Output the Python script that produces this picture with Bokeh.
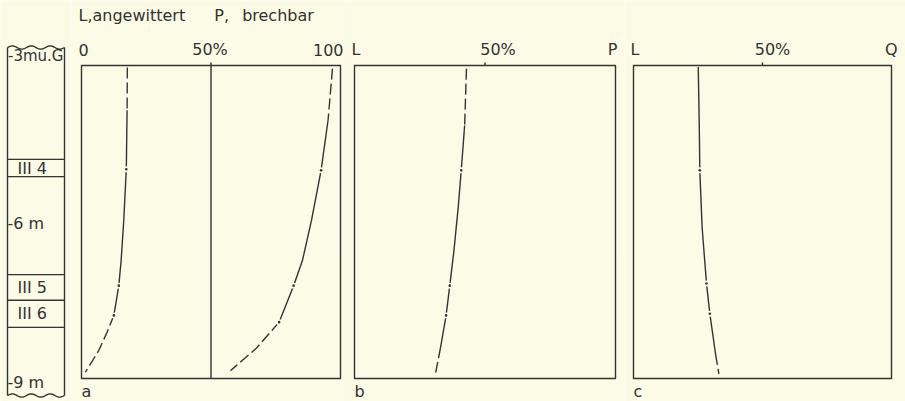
import numpy as np
from bokeh.plotting import figure
from bokeh.layouts import row
from bokeh.models import Range1d
from bokeh.core.properties import value
from bokeh.embed import file_html
from bokeh.resources import INLINE

# ---------------- data ----------------
# stratigraphic column (depth in m below ground)
layer_names = ["III 4", "III 5", "III 6"]
layer_top = [4.80, 7.01, 7.50]
layer_bottom = [5.13, 7.50, 8.02]
depth_ticks = [3, 6, 9]
depth_labels = ["-3mu.G", "-6 m", "-9 m"]

# panel a : L (angewittert) and P (brechbar), cumulative %
a_L_depth = [3.04, 3.86, 4.99, 5.98, 6.74, 7.22, 7.79, 8.11, 8.46, 8.88]
a_L_pct = [17.7, 17.6, 17.3, 16.3, 15.3, 14.4, 12.5, 9.9, 6.7, 1.5]
a_P_depth = [3.06, 4.05, 5.01, 5.97, 6.74, 7.22, 7.92, 8.42, 8.85]
a_P_pct = [96.9, 95.2, 92.5, 88.8, 85.3, 81.9, 76.3, 67.5, 57.5]
# panel b : L / P ratio %
b_depth = [3.06, 4.15, 5.01, 5.74, 6.55, 7.22, 7.79, 8.40, 8.91]
b_pct = [42.9, 42.2, 40.9, 39.7, 38.1, 36.5, 35.1, 33.0, 31.0]
# panel c : L / Q ratio %
c_depth = [3.03, 4.18, 5.01, 6.10, 6.55, 7.18, 7.76, 8.53, 8.91]
c_pct = [25.1, 25.5, 25.7, 26.6, 27.3, 28.3, 29.6, 31.8, 33.1]

tick_values = [0, 50, 100]
depth_range = [3, 9]
panel_a_ticks = ["0", "50%", "100"]
panel_b_ticks = ["L", "50%", "P"]
panel_c_ticks = ["L", "50%", "Q"]
panel_letters = ["a", "b", "c"]
title_text = "L,angewittert\u2003 \u2002P,\u2002 brechbar"

# ---------------- style / layout ----------------
BG = "#fbfbe6"
INK = "#333333"
FONT = "DejaVu Sans"
FS = "16px"
H = 401
BOX_TOP, BOX_BOT = 65, 378
PX_PER_M = (BOX_BOT - BOX_TOP) / (depth_range[1] - depth_range[0])
Y_RANGE = (depth_range[1] + (H - BOX_BOT) / PX_PER_M, depth_range[0] - BOX_TOP / PX_PER_M)
DASH = "11 4"
LW = 1.4
SAMPLE_IDX = [2, 5, 6]


def base_fig(width, x_range):
    p = figure(width=width, height=H, x_range=x_range, y_range=Range1d(*Y_RANGE),
               min_border=0, toolbar_location=None, output_backend="svg",
               x_axis_location=None, y_axis_location=None,
               background_fill_color=BG, border_fill_color=BG, outline_line_color=None)
    p.grid.visible = False
    return p


def draw_curve(p, depth, pct, top_end, bot_start):
    d = np.array(depth)
    v = np.array(pct)
    st = dict(line_color=INK, line_width=LW)
    if top_end > 0:
        p.line(v[:top_end + 1], d[:top_end + 1], line_dash=DASH, **st)
    p.line(v[top_end:bot_start + 1], d[top_end:bot_start + 1], **st)
    p.line(v[bot_start:], d[bot_start:], line_dash=DASH, **st)
    p.scatter(v[SAMPLE_IDX], d[SAMPLE_IDX], size=6, fill_color=BG, line_color=None)
    p.scatter(v[SAMPLE_IDX], d[SAMPLE_IDX], size=2.6, fill_color=INK, line_color=None)


def txt(p, x, y, t, align, xo=0, yo=0, size=FS):
    p.text(x=[x], y=[y], text=[t], text_align=align, text_baseline="middle",
           x_offset=xo, y_offset=yo, text_font=value(FONT), text_font_size=size,
           text_color=INK)


def make_panel(width, ml, mr, tick_labels, letter, pct_shift, right_shift):
    bw = width - ml - mr
    lo, hi = tick_values[0], tick_values[-1]
    span = hi - lo
    p = base_fig(width, Range1d(lo - ml / bw * span, hi + mr / bw * span))
    d0, d1 = depth_range
    p.quad(left=[lo], right=[hi], top=[d0], bottom=[d1], fill_color=None,
           line_color=INK, line_width=LW)
    p.segment(x0=[tick_values[1]], x1=[tick_values[1]], y0=[d0],
              y1=[d0 - 3 / PX_PER_M], line_color=INK, line_width=LW)
    txt(p, lo, d0, tick_labels[0], "left", xo=-3, yo=-16)
    txt(p, tick_values[1], d0, tick_labels[1], "center", xo=pct_shift, yo=-16)
    txt(p, hi, d0, tick_labels[2], "right", xo=right_shift, yo=-16)
    txt(p, lo, d1, letter, "left", xo=0, yo=13)
    return p


# ---------------- stratigraphic column ----------------
S_W = 71
s = base_fig(S_W, Range1d(0, S_W))
xl, xr = 7, 64
col_top = depth_range[0] + (47 - BOX_TOP) / PX_PER_M
col_bot = depth_range[1] + (395 - BOX_BOT) / PX_PER_M
s.segment(x0=[xl, xr], x1=[xl, xr], y0=[col_top, col_top], y1=[col_bot, col_bot],
          line_color=INK, line_width=LW)
wx = np.linspace(xl, xr, 90)
wave = 1.6 / PX_PER_M * np.sin(2 * np.pi * (wx - xl) / ((xr - xl) / 3))
s.line(wx, col_top - wave, line_color=INK, line_width=LW)
s.line(wx, col_bot - wave, line_color=INK, line_width=LW)
bounds = sorted(set(layer_top + layer_bottom))
s.segment(x0=[xl] * len(bounds), x1=[xr] * len(bounds), y0=bounds, y1=bounds,
          line_color=INK, line_width=1.3)
mids = [(t + b) / 2 for t, b in zip(layer_top, layer_bottom)]
s.text(x=[17] * len(mids), y=mids, text=layer_names, text_font=value(FONT),
       text_font_size=FS, text_color=INK, text_baseline="middle", text_align="left")
txt(s, xl + 0.5, depth_ticks[0], depth_labels[0], "left", yo=-10, size="15px")
txt(s, xl, depth_ticks[1], depth_labels[1], "left", yo=1)
txt(s, xl, depth_ticks[2], depth_labels[2], "left", yo=4)

# ---------------- panels ----------------
pa = make_panel(276, 10, 7, panel_a_ticks, panel_letters[0], -1, 3)
pa.segment(x0=[tick_values[1]], x1=[tick_values[1]], y0=[depth_range[0]],
           y1=[depth_range[1]], line_color=INK, line_width=LW)
draw_curve(pa, a_L_depth, a_L_pct, 1, 6)
draw_curve(pa, a_P_depth, a_P_pct, 1, 6)
txt(pa, tick_values[0], depth_range[0], title_text, "left", xo=-3, yo=-50)

pb = make_panel(277, 7, 9, panel_b_ticks, panel_letters[1], 13, 2)
draw_curve(pb, b_depth, b_pct, 1, 7)

pc = make_panel(281, 9, 14, panel_c_ticks, panel_letters[2], 10, 6)
draw_curve(pc, c_depth, c_pct, 0, 7)

layout = row(s, pa, pb, pc, spacing=0)
open("out.html", "w").write(file_html(layout, INLINE))
